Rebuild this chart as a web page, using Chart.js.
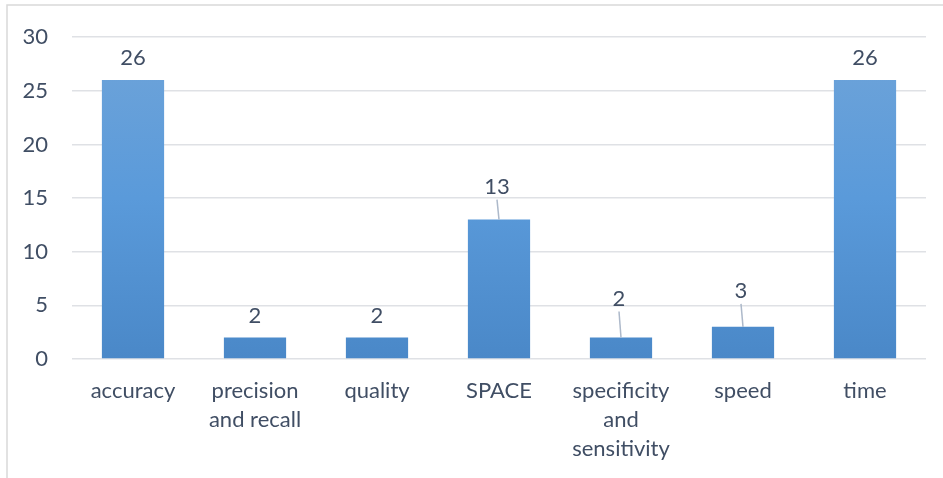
<!DOCTYPE html>
<html>
<head>
<meta charset="utf-8">
<script src="https://cdn.jsdelivr.net/npm/chart.js@4/dist/chart.umd.min.js"></script>
<style>
  html, body { margin: 0; padding: 0; background: #fff; }
  canvas { display: block; }
</style>
</head>
<body>
<canvas id="myChart" width="943" height="478"></canvas>
<script>
const categories = ['accuracy', ['precision', 'and recall'], 'quality', 'SPACE', ['specificity', 'and', 'sensitivity'], 'speed', 'time']
const counts = [26, 2, 2, 13, 2, 3, 26]
const yTicks = [0, 5, 10, 15, 20, 25, 30]

// label offsets above the bar top (px), with leader line where Excel moved the label
const labelLift = [22, 22, 22, 33, 39, 36, 22]
const labelShift = [0, 0, 0, -2, -2, -2, 0]
const leader = [false, false, false, true, true, true, false]

const textColor = '#404E64'
const fontFamily = 'Lato, "Open Sans", sans-serif'

const frame = {
  id: 'frame',
  beforeDraw(chart) {
    const c = chart.ctx
    c.save()
    c.strokeStyle = '#D9D9D9'
    c.lineWidth = 1.5
    c.beginPath()
    c.moveTo(7, chart.height)
    c.lineTo(7, 5)
    c.lineTo(chart.width, 5)
    c.stroke()
    c.restore()
  }
}

const barLabels = {
  id: 'barLabels',
  afterDatasetsDraw(chart) {
    const c = chart.ctx
    const meta = chart.getDatasetMeta(0)
    c.save()
    c.font = '22px ' + fontFamily
    c.textAlign = 'center'
    c.textBaseline = 'middle'
    meta.data.forEach((bar, i) => {
      const x = bar.x + labelShift[i]
      const y = bar.y - labelLift[i]
      if (leader[i]) {
        c.strokeStyle = '#ADB9CA'
        c.lineWidth = 1.5
        c.beginPath()
        c.moveTo(x, y + 13)
        c.lineTo(bar.x, bar.y)
        c.stroke()
      }
      c.fillStyle = textColor
      c.fillText(String(counts[i]), x, y)
    })
    c.restore()
  }
}

;(() => {
  'use strict'

  const ctx = document.getElementById('myChart')

  const myChart = new Chart(ctx, {
    type: 'bar',
    data: {
      labels: categories,
      datasets: [
        {
          data: counts,
          backgroundColor: context => {
            const el = context.element
            const area = context.chart.chartArea
            if (!area) return '#5B9BD5'
            const top = el && el.y !== undefined ? el.y : area.top
            const bottom = context.chart.scales.y.getPixelForValue(0)
            const g = context.chart.ctx.createLinearGradient(0, top, 0, bottom)
            g.addColorStop(0, '#6FA4D9')
            g.addColorStop(0.5, '#5A9ADA')
            g.addColorStop(1, '#4A88C8')
            return g
          },
          borderWidth: 0,
          categoryPercentage: 1,
          barPercentage: 0.51
        }
      ]
    },
    options: {
      responsive: false,
      animation: false,
      layout: { padding: { left: 0, top: 35, right: 17, bottom: 0 } },
      plugins: {
        legend: { display: false },
        tooltip: { enabled: false }
      },
      scales: {
        x: {
          afterFit: s => { s.height = 119 },
          grid: { display: false, drawTicks: false },
          border: { display: false },
          ticks: {
            color: textColor,
            font: { family: fontFamily, size: 22, lineHeight: 1.3 },
            padding: 18,
            maxRotation: 0,
            autoSkip: false
          }
        },
        y: {
          min: 0,
          max: 30,
          afterFit: s => { s.width = 72 },
          afterBuildTicks: s => { s.ticks = yTicks.map(v => ({ value: v })) },
          grid: { color: '#DFE1E5', lineWidth: 1.5, drawTicks: false },
          border: { display: false },
          ticks: {
            color: textColor,
            font: { family: fontFamily, size: 22 },
            padding: 24
          }
        }
      }
    },
    plugins: [frame, barLabels]
  })
})()
</script>
</body>
</html>
